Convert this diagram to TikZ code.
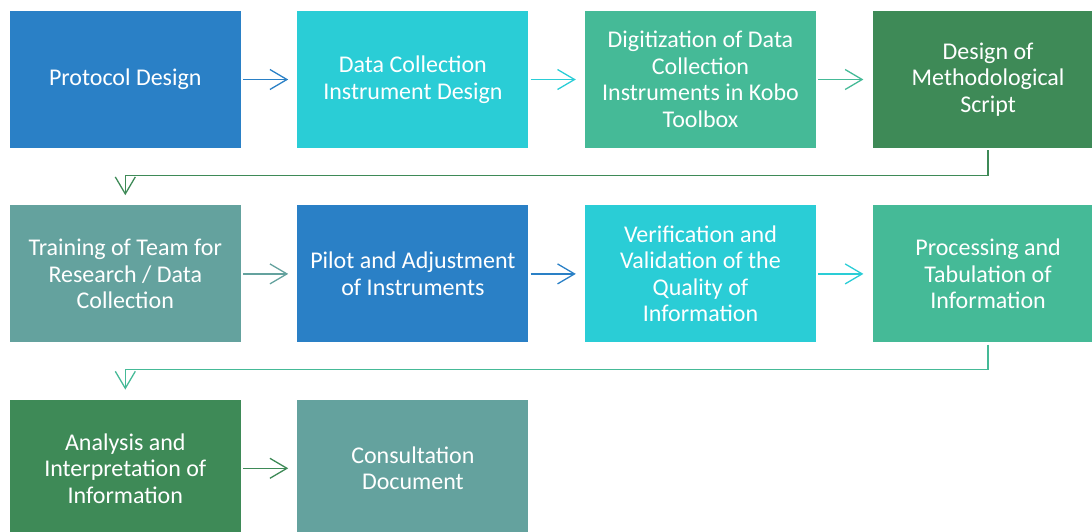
\documentclass[tikz,border=0pt]{standalone}
\usepackage{fontspec}
\setmainfont{Carlito}
\usetikzlibrary{positioning,arrows.meta}
\definecolor{cblue}{HTML}{2A80C6}
\definecolor{ccyan}{HTML}{2ACDD6}
\definecolor{cteal}{HTML}{45BA97}
\definecolor{cdark}{HTML}{3E8A57}
\definecolor{cgray}{HTML}{64A29E}

\begin{document}
\begin{tikzpicture}[
  node distance=57pt and 56.2pt,
  every node/.style={minimum width=231pt, minimum height=137pt, inner sep=0pt, align=center, text=white, font=\fontsize{24}{26.5}\selectfont},
  bluebox/.style={fill=cblue},
  cyanbox/.style={fill=ccyan},
  tealbox/.style={fill=cteal},
  darkbox/.style={fill=cdark},
  graybox/.style={fill=cgray},
  flow/.style={-{Straight Barb[length=17pt,width=20pt]}, line width=1.3pt, shorten <=2pt, shorten >=9pt}
]
\useasboundingbox (0,0) rectangle (1092pt,-531pt);
\clip (0,0) rectangle (1092pt,-531pt);
% first row
\node[bluebox] (protocol) at (125.3pt,-79.5pt) {Protocol Design};
\node[cyanbox, right=of protocol] (instrument) {Data Collection\\Instrument Design};
\node[tealbox, right=of instrument] (digitization) {Digitization of Data\\Collection\\Instruments in Kobo\\Toolbox};
\node[darkbox, right=of digitization] (script) {Design of\\Methodological\\Script};
% second row
\node[graybox, below=of protocol] (training) {Training of Team for\\Research / Data\\Collection};
\node[bluebox, right=of training] (pilot) {Pilot and Adjustment\\of Instruments};
\node[cyanbox, right=of pilot] (verification) {Verification and\\Validation of the\\Quality of\\Information};
\node[tealbox, right=of verification] (processing) {Processing and\\Tabulation of\\Information};
% third row
\node[darkbox, below=of training] (analysis) {Analysis and\\Interpretation of\\Information};
\node[graybox, right=of analysis] (consultation) {Consultation\\Document};

\draw[flow, draw=cblue] (protocol) -- (instrument);
\draw[flow, draw=ccyan] (instrument) -- (digitization);
\draw[flow, draw=cteal] (digitization) -- (script);
\draw[flow, draw=cdark, shorten >=10pt] (script.south) -- ++(0,-27pt) -| (training.north);
\draw[flow, draw=cgray] (training) -- (pilot);
\draw[flow, draw=cblue] (pilot) -- (verification);
\draw[flow, draw=ccyan] (verification) -- (processing);
\draw[flow, draw=cteal, shorten >=10pt] (processing.south) -- ++(0,-27pt) -| (analysis.north);
\draw[flow, draw=cdark] (analysis) -- (consultation);
\end{tikzpicture}
\end{document}
